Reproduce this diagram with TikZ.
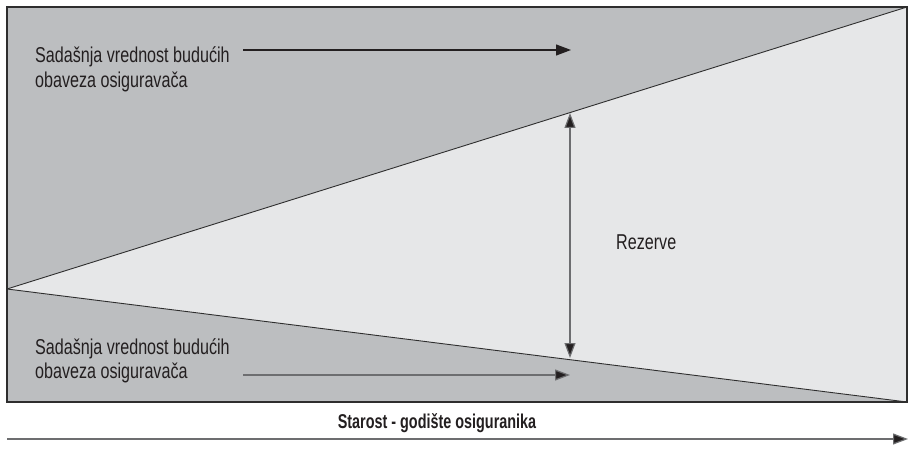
\documentclass[tikz,border=0pt]{standalone}
\usepackage{fontspec}
\newfontfamily\condf[FakeStretch=0.75]{Liberation Sans}
\newfontfamily\condb[FakeStretch=0.72]{Liberation Sans}
\usetikzlibrary{arrows.meta}
\definecolor{darkfill}{HTML}{BCBEC0}
\definecolor{lightfill}{HTML}{E6E7E8}
\definecolor{edge}{HTML}{2E2E2E}
\definecolor{ink}{HTML}{231F20}
\definecolor{shaft}{HTML}{6D6E70}
\tikzset{
  lbl/.style={inner sep=0pt, anchor=base west, text=ink, font=\condf\fontsize{21.5}{25}\selectfont},
  boldlbl/.style={inner sep=0pt, anchor=base, text=ink, font=\condb\bfseries\fontsize{20}{22}\selectfont},
  mytip/.tip={Triangle[length=15pt,width=11pt,fill=ink]},
}
\begin{document}
\begin{tikzpicture}[x=1pt,y=-1pt]
\useasboundingbox (0,0) rectangle (908,449);
% corners
\coordinate (tl) at (7,7);
\coordinate (tr) at (907,7);
\coordinate (br) at (907,402);
\coordinate (apex) at (7,289);
% fills
\fill[darkfill] (tl) rectangle (br);
\fill[lightfill] (apex) -- (tr) -- (br) -- cycle;
\draw[edge, line width=0.9pt] (apex) -- (tr);
\draw[edge, line width=0.9pt] (apex) -- (br);
\draw[edge, line width=1.1pt] (tl) rectangle (br);
% top label
\node[lbl] (ta) at (35,63) {Sadašnja vrednost budućih};
\node[lbl] (tb) at (35,88) {obaveza osiguravača};
\coordinate (tas) at (243,50);
\coordinate (tae) at (571,50);
\draw[line width=1.2pt, draw=ink, -{mytip}] (tas) -- (tae);
% bottom label
\node[lbl] (ba) at (35,354) {Sadašnja vrednost budućih};
\node[lbl] (bb) at (35,378) {obaveza osiguravača};
\coordinate (bas) at (243,375);
\coordinate (bae) at (570,375);
\draw[line width=1.2pt, draw=shaft, -{mytip}] (bas) -- (bae);
% reserve arrow
\coordinate (rt) at (570,113);
\coordinate (rb) at (570,358);
\draw[line width=1.2pt, draw=shaft, {mytip}-{mytip}] (rb) -- (rt);
\node[lbl] (rez) at (616,250) {Rezerve};
% axis
\node[boldlbl] (axl) at (437,428) {Starost - godište osiguranika};
\coordinate (axs) at (7,439);
\coordinate (axe) at (908,439);
\draw[line width=1.2pt, draw=shaft, -{mytip}] (axs) -- (axe);
\end{tikzpicture}
\end{document}
